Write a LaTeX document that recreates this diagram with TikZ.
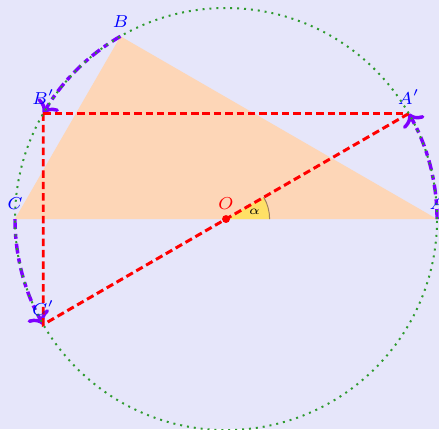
\documentclass[tikz,border=0pt]{standalone}
\usetikzlibrary{arrows.meta}
\begin{document}
\begin{tikzpicture}[
    ptlabel/.style={above,blue,font=\scriptsize,inner sep=3.5pt},
    turn/.style={draw=turncol,line width=1.4pt,dash pattern=on 4pt off 2pt on 2pt off 2pt,-{To}},
    rotline/.style={red,very thick,dash pattern=on 3pt off 1.6pt}]
        \definecolor{bgcol}{HTML}{E6E6FA}
        \definecolor{tricol}{HTML}{FDD6B7}
        \definecolor{turncol}{HTML}{7F00FF}
        \definecolor{circcol}{HTML}{2E9A2E}
        \definecolor{anglecol}{HTML}{FFE066}
        \clip (-3.213,-2.986) rectangle (3.028,3.114);
        \fill[bgcol] (-3.213,-2.986) rectangle (3.028,3.114);
        \coordinate (O) at (0,0);
        \foreach \p/\a in {A/0,B/120,C/180,Ap/30,Bp/150,Cp/210}
            \coordinate (\p) at (\a:3);
        \fill[tricol] (A) -- (B) -- (C) -- cycle;
        \fill[anglecol] (O) -- (0:0.62) arc (0:30:0.62) -- cycle;
        \draw[brown!50!gray] (0:0.62) arc (0:30:0.62);
        \node[font=\tiny] (alpha) at (15:0.42) {$\alpha$};
        \foreach \p/\a in {A/0,B/120,C/180}
            \draw[turn] (\p) arc (\a:\a+30:3);
        \draw[rotline] (Bp) -- (Ap);
        \draw[rotline] (Bp) -- (Cp) -- (Ap);
        \draw[circcol,thick,dotted] (O) circle (3);
        \fill[red] (O) circle (1.6pt);
        \node[above,red,font=\scriptsize,inner sep=3.5pt] (lblO) at (O) {$O$};
        \foreach \p/\t in {A/A,B/B,C/C,Ap/A',Bp/B',Cp/C'}
            \node[ptlabel] (lbl\p) at (\p) {$\t$};
\end{tikzpicture}
\end{document}
